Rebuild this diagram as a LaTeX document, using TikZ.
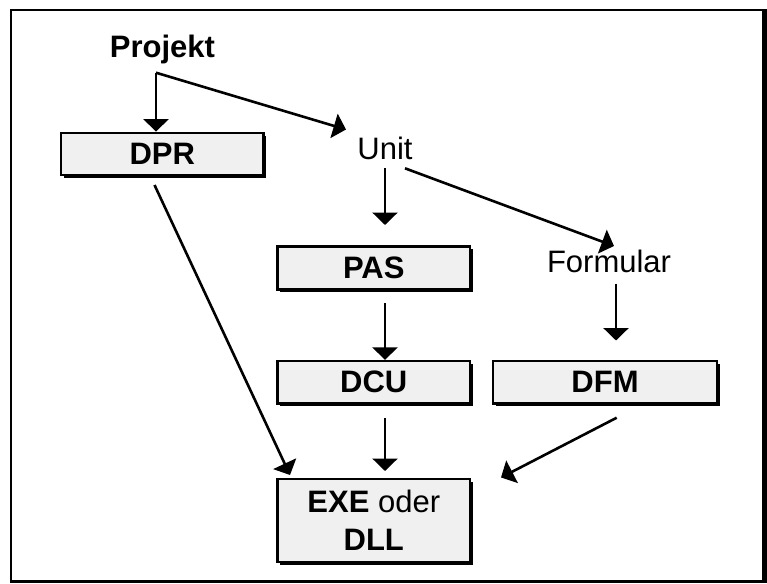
\documentclass[tikz,border=0pt]{standalone}
\usepackage{fontspec}
\setmainfont{Liberation Sans}
\usetikzlibrary{arrows.meta,shadows}
\definecolor{boxfill}{RGB}{240,240,240}
\begin{document}
\begin{tikzpicture}[x=1pt,y=-1pt,
  every node/.style={font=\fontsize{31}{38}\selectfont, inner sep=0pt},
  box/.style={draw=black, line width=2.3pt, fill=boxfill, align=center,
    drop shadow={shadow xshift=2.8pt, shadow yshift=-2.8pt, fill=black, opacity=1}},
  arr/.style={line width=2.6pt, -{Triangle[width=25pt,length=12.5pt]}}]
\useasboundingbox (0,0) rectangle (767,583);
% frame
\draw[line width=2.4pt] (11,10.3) rectangle (764.5,581.5);
\draw[line width=5pt] (764.5,9.2) -- (764.5,582.6);
% nodes
\node[anchor=base] (proj) at (162.5,58) {\textbf{Projekt}};
\node[box, minimum width=202.5pt, minimum height=42.3pt] (DPR) at (162.25,153.9) {\textbf{DPR}};
\node[anchor=base] (unit) at (385,159.3) {Unit};
\node[anchor=base] (form) at (609,272.7) {Formular};
\node[box, minimum width=192.5pt, minimum height=43pt] (PAS) at (373.75,268) {\textbf{PAS}};
\node[box, minimum width=192.5pt, minimum height=42.5pt] (DCU) at (373.75,382.25) {\textbf{DCU}};
\node[box, minimum width=223.4pt, minimum height=42.5pt] (DFM) at (605,382.25) {\textbf{DFM}};
\node[box, minimum width=192.5pt, minimum height=82.4pt] (EXE) at (373.75,520.5) {\textbf{EXE} oder\\\textbf{DLL}};
% coordinates
\coordinate (pj) at (156,72.7);
\coordinate (unitin) at (346,129.5);
\coordinate (u1) at (385,168);
\coordinate (u1e) at (385,225);
\coordinate (u2) at (405,168.3);
\coordinate (u2e) at (614,246);
\coordinate (p1) at (385,303);
\coordinate (f1) at (616,283.5);
\coordinate (f1e) at (616,340.5);
\coordinate (d1) at (385,418.3);
\coordinate (d1e) at (385,471);
\coordinate (m1) at (616.7,417.7);
\coordinate (m1e) at (501,477.5);
\coordinate (r1) at (154.5,185);
\coordinate (r1e) at (290,475);
% connectors
\draw[arr] (pj) -- (pj |- DPR.north);
\draw[arr] (pj) -- (unitin);
\draw[arr] (u1) -- (u1e);
\draw[arr] (u2) -- (u2e);
\draw[arr] (p1) -- (p1 |- DCU.north);
\draw[arr] (f1) -- (f1e);
\draw[arr] (d1) -- (d1e);
\draw[arr] (m1) -- (m1e);
\draw[arr] (r1) -- (r1e);
\end{tikzpicture}
\end{document}
